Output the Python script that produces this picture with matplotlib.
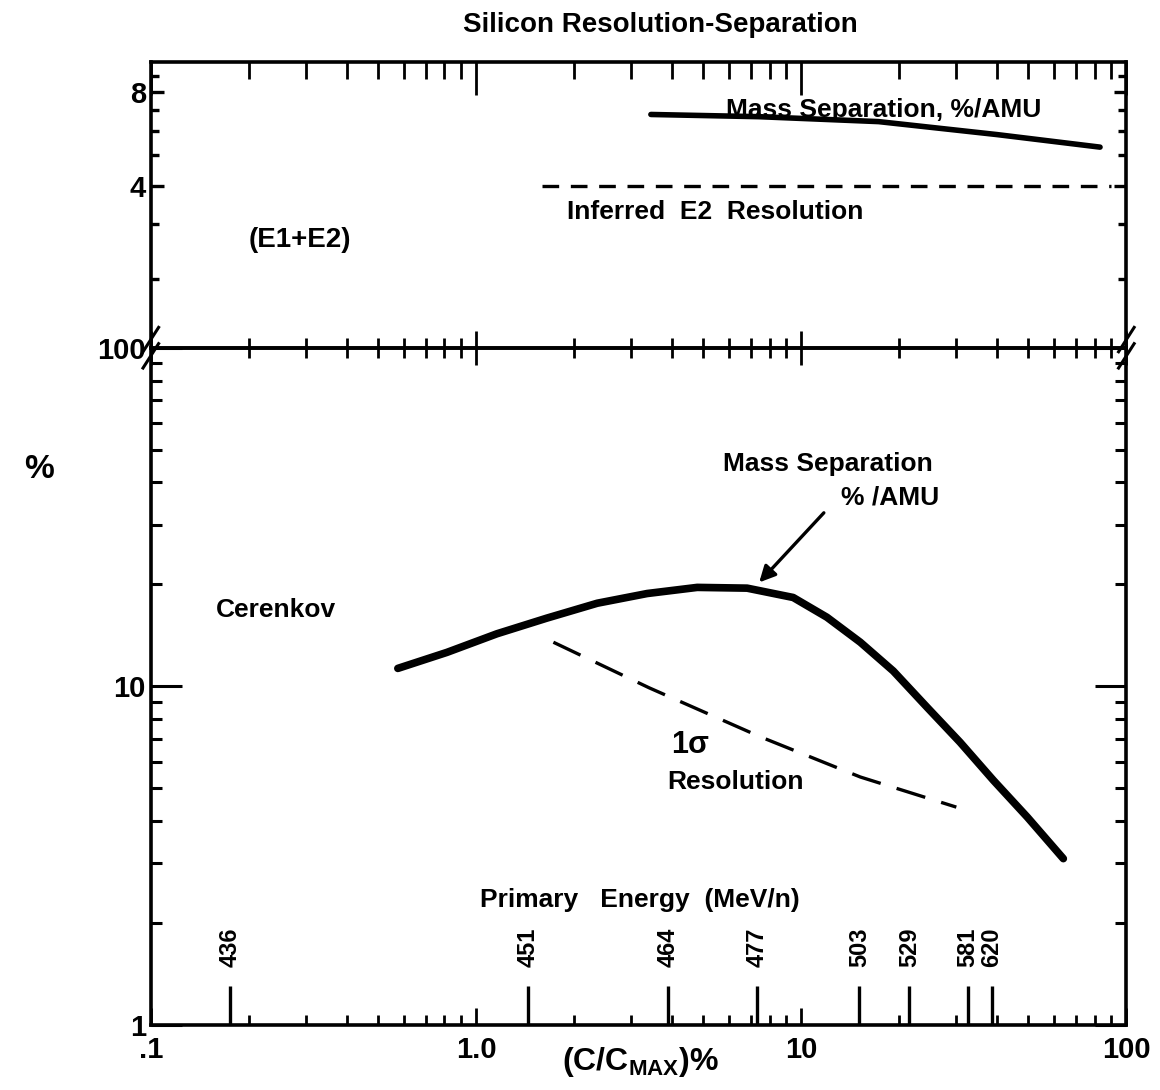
import matplotlib
matplotlib.use("Agg")
import matplotlib.pyplot as plt
from matplotlib.ticker import FixedLocator, NullFormatter

plt.rcParams["font.family"] = ["Liberation Sans", "DejaVu Sans"]
plt.rcParams["font.weight"] = "bold"

# top panel (E1+E2): mass separation and inferred E2 resolution
top_sep_x = [3.45, 7.4, 17.3, 40.0, 83.0]
top_sep_y = [6.78, 6.67, 6.43, 5.84, 5.32]
top_res_x = [1.6, 90.0]
top_res_y = [4.0, 4.0]

# bottom panel (Cerenkov)
cer_sep_x = [0.575, 0.814, 1.16, 1.65, 2.36, 3.36, 4.79, 6.82, 9.45, 12.0, 15.2, 19.2,
             24.4, 30.8, 39.0, 49.6, 64.0]
cer_sep_y = [11.3, 12.6, 14.3, 15.9, 17.6, 18.8, 19.6, 19.5, 18.3, 16.0, 13.5, 11.1,
             8.67, 6.84, 5.28, 4.11, 3.1]
cer_res_x = [1.73, 3.41, 7.48, 15.2, 30.0]
cer_res_y = [13.5, 9.9, 7.1, 5.4, 4.4]

# primary energy scale (MeV/n) along the bottom axis
energy_pos = [0.175, 1.45, 3.9, 7.3, 15.1, 21.5, 32.5, 38.5]
energy_lbl = ["436", "451", "464", "477", "503", "529", "581", "620"]

x_ticks = [0.1, 1, 10, 100]
x_ticklabels = [".1", "1.0", "10", "100"]

fig = plt.figure(figsize=(11.6, 10.9), dpi=100)
ax_top = fig.add_axes([0.130, 0.681, 0.841, 0.262])
ax = fig.add_axes([0.130, 0.0596, 0.841, 0.6214])

sw = 2.6
for a in (ax_top, ax):
    a.set_xscale("log")
    a.set_yscale("log")
    a.set_xlim(0.1, 100)
    for s in a.spines.values():
        s.set_linewidth(sw)

# ---- top panel
ax_top.set_ylim(1.2, 10)
ax_top.spines["bottom"].set_visible(False)
ax_top.plot(top_sep_x, top_sep_y, color="black", lw=4, solid_capstyle="round")
ax_top.plot(top_res_x, top_res_y, color="black", lw=2.4, dashes=(5, 3.5))
ax_top.yaxis.set_major_locator(FixedLocator([4, 8]))
ax_top.yaxis.set_minor_locator(FixedLocator([2, 3, 5, 6, 7, 9]))
ax_top.set_yticklabels(["4", "8"])
ax_top.yaxis.set_minor_formatter(NullFormatter())
ax_top.tick_params(axis="y", which="both", direction="in", left=True, right=True,
                   labelsize=21, width=2.4)
ax_top.tick_params(axis="y", which="major", length=9)
ax_top.tick_params(axis="y", which="minor", length=6)
ax_top.tick_params(axis="x", which="both", direction="in", top=True, bottom=False,
                   labelbottom=False, width=2.0)
ax_top.tick_params(axis="x", which="major", length=24)
ax_top.tick_params(axis="x", which="minor", length=12)

ax_top.text(0.287, 2.67, "(E1+E2)", fontsize=20, ha="center", va="center")
ax_top.text(17.9, 7.0, "Mass Separation, %/AMU", fontsize=19, ha="center", va="center")
ax_top.text(5.43, 3.28, "Inferred  E2  Resolution", fontsize=19, ha="center", va="center")

# ---- bottom panel
ax.set_ylim(1, 100)
ax.plot(cer_sep_x, cer_sep_y, color="black", lw=5.5, solid_capstyle="round")
ax.plot(cer_res_x, cer_res_y, color="black", lw=2.4, dashes=(9, 5))

ax.set_xticks(x_ticks)
ax.set_xticklabels(x_ticklabels)
ax.xaxis.set_minor_formatter(NullFormatter())
ax.tick_params(axis="x", which="both", direction="in", bottom=True, top=False,
               labelsize=21, width=2.0, pad=8)
ax.tick_params(axis="x", which="major", length=12)
ax.tick_params(axis="x", which="minor", length=7)
ax.set_yticks([1, 10, 100])
ax.set_yticklabels(["1", "10", "100"])
ax.yaxis.set_minor_formatter(NullFormatter())
ax.tick_params(axis="y", which="both", direction="in", left=True, right=True,
               labelsize=21, width=2.2)
ax.tick_params(axis="y", which="major", length=22)
ax.tick_params(axis="y", which="minor", length=8)

# ticks crossing the shared line at 100
top_line = ax.secondary_xaxis("top")
top_line.set_xticks(x_ticks)
top_line.xaxis.set_minor_formatter(NullFormatter())
top_line.tick_params(axis="x", which="both", direction="inout", labeltop=False, width=2.0)
top_line.tick_params(axis="x", which="major", length=24)
top_line.tick_params(axis="x", which="minor", length=14)
top_line.spines["top"].set_linewidth(sw)

# primary energy scale
energy_ax = ax.secondary_xaxis("bottom")
energy_ax.set_xticks(energy_pos)
energy_ax.set_xticklabels(energy_lbl, rotation=90, fontsize=17)
energy_ax.xaxis.set_minor_locator(FixedLocator([]))
energy_ax.tick_params(axis="x", which="major", direction="in", length=28, width=2.4,
                      pad=-70)
energy_ax.spines["bottom"].set_visible(False)
ax.text(3.2, 2.34, "Primary   Energy  (MeV/n)", fontsize=19, ha="center", va="center")

ax.text(0.243, 16.8, "Cerenkov", fontsize=19, ha="center", va="center")
ax.text(4.55, 6.7, "1σ", fontsize=22, ha="center", va="center")
ax.text(6.27, 5.21, "Resolution", fontsize=19, ha="center", va="center")
ax.text(12.1, 45.5, "Mass Separation", fontsize=19, ha="center", va="center")
ax.text(18.8, 36.1, "% /AMU", fontsize=19, ha="center", va="center")
ax.annotate("", xy=(7.33, 20.0), xytext=(11.9, 33.0),
            arrowprops=dict(arrowstyle="-|>", color="black", lw=2.4, mutation_scale=24))

# axis break marks at the shared line
for xb in (0.0, 1.0):
    for dy in (-0.012, 0.012):
        ax.plot([xb - 0.008, xb + 0.008], [1.0 + dy - 0.018, 1.0 + dy + 0.018],
                transform=ax.transAxes, color="black", lw=2.2, clip_on=False)

fig.text(0.569, 0.977, "Silicon Resolution-Separation", fontsize=20, ha="center", va="center")
fig.text(0.034, 0.569, "%", fontsize=24, ha="center", va="center")
fig.text(0.552, 0.026, "(C/C$_{\\mathregular{MAX}}$)%", fontsize=23, ha="center", va="center")

fig.savefig("out.png", dpi=100)
